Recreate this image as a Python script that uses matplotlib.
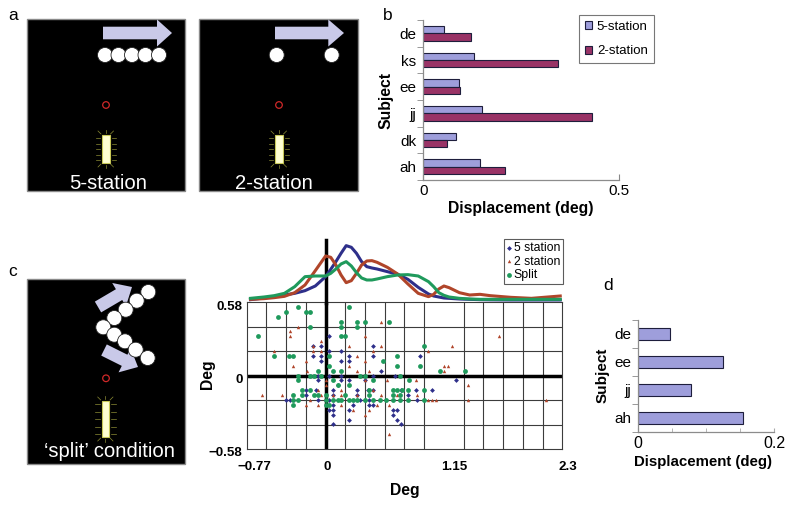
import matplotlib
matplotlib.use('Agg')
import matplotlib.pyplot as plt
from matplotlib.patches import Rectangle, Circle, Polygon, FancyArrow
import matplotlib.transforms as mtransforms
import numpy as np

plt.rcParams['font.family'] = ['Liberation Sans', 'DejaVu Sans']

# ---------------- data ----------------
subjects_b = ['de', 'ks', 'ee', 'jj', 'dk', 'ah']
five_station = [0.054, 0.131, 0.092, 0.149, 0.084, 0.145]
two_station = [0.121, 0.345, 0.094, 0.432, 0.061, 0.208]

subjects_d = ['de', 'ee', 'jj', 'ah']
split_disp = [0.046, 0.125, 0.078, 0.154]

# panel c scatter (deg)
split_x = [-0.269, 0.227, -0.389, -0.194, -0.155, -0.463, 0.152, 0.304, 0.379, 0.615,
           -0.155, 0.152, 0.304, -0.657, 0.152, 0.185, 0.952, -0.505, -0.353, -0.314,
           0.032, 0.690, 0.560, 0.032, 0.690, 0.913, -0.078, 0.074, 0.152, 1.107,
           1.350, -0.269, -0.155, -0.117, -0.042, 0.337, 0.379, 0.722, -0.269, 0.074,
           0.460, 0.809, 0.117, 0.227, -0.230, -0.149, 0.418, 0.651, 0.690, 0.742,
           0.800, 0.955, -0.314, -0.230, -0.117, -0.078, 0.0, 0.191, 0.418, 0.651,
           0.725, -0.314, -0.269, 0.0, 0.074, 0.117, 0.152, 0.227, 0.266, 0.304,
           0.379, 0.460, 0.531, 0.589, 0.651, 0.722, 0.800, 0.955, -0.314, 0.0, 0.032]
split_y = ([0.546] * 2 + [0.506] * 3 + [0.467] + [0.425] * 4 + [0.388] * 3 + [0.311] * 3
           + [0.235] + [0.158] * 5 + [0.119] + [0.076] * 3 + [0.037] * 5 + [0.0] * 7
           + [-0.034] * 4 + [-0.074] * 2 + [-0.113] * 8 + [-0.153] * 9 + [-0.193] * 17
           + [-0.232] * 3)

five_x = [0.032, -0.120, -0.042, 0.460, 0.032, 0.152, -0.120, -0.042, 0.227, 0.460,
          0.913, -0.042, 0.152, 0.227, 0.538, -0.078, 0.032, 0.152, 0.460, 0.677,
          -0.078, 0.152, 0.227, 0.379, 1.263, 0.117, -0.194, -0.094, 0.074, 0.304,
          0.408, 0.460, 0.729, 0.881, 1.033, -0.194, 0.074, 0.304, 0.797, -0.385,
          -0.346, -0.078, 0.036, 0.337, 0.418, 0.884, 0.074, 0.266, 0.418, 0.460,
          0.032, 0.074, 0.227, 0.651, 0.690, 0.074, 0.651, 0.227, 0.690, 0.074, 0.729]
five_y = ([0.311] + [0.235] * 3 + [0.198] * 2 + [0.158] * 5 + [0.119] * 3 + [0.037]
          + [0.0] * 5 + [-0.034] * 5 + [-0.074] + [-0.113] * 9 + [-0.153] * 4
          + [-0.193] * 7 + [-0.232] * 4 + [-0.272] * 5 + [-0.311] * 2 + [-0.351] * 2
          + [-0.385] * 2)

two_x = [0.538, -0.269, -0.346, -0.346, 0.379, 1.687, -0.042, -0.120, 0.227, 0.538,
         1.224, -0.499, -0.120, -0.042, 0.460, 0.991, 0.304, -0.194, 0.379, -0.314,
         0.227, 1.146, 1.185, -0.181, 0.304, 0.418, 1.146, -0.042, 0.0, 0.379,
         0.596, 0.877, 0.0, 1.379, -0.078, 0.152, 0.460, -0.615, -0.421, -0.314,
         -0.042, 0.0, 0.074, 0.152, 0.304, 0.538, 0.690, 0.884, -0.155, 0.994,
         1.033, 1.075, 1.379, 2.144, -0.194, -0.078, 0.152, 0.499, 0.615, 0.266,
         0.418, 0.379, 0.615]
two_y = ([0.425] + [0.388] + [0.351] + [0.311] * 3 + [0.274] + [0.235] * 4 + [0.198] * 5
         + [0.158] + [0.119] * 2 + [0.076] * 4 + [0.037] * 4 + [0.0] + [-0.034] * 4
         + [-0.074] * 2 + [-0.113] * 3 + [-0.153] * 11 + [-0.193] * 6 + [-0.232] * 5
         + [-0.272] * 2 + [-0.311] + [-0.464])

# panel c density curves (relative height)
kde_x = [-0.73, -0.6, -0.5, -0.4, -0.3, -0.2, -0.1, 0.0, 0.05, 0.1, 0.15, 0.2, 0.25,
         0.3, 0.35, 0.4, 0.45, 0.5, 0.6, 0.7, 0.8, 0.9, 1.0, 1.05, 1.1, 1.15, 1.2,
         1.3, 1.4, 1.5, 1.6, 1.8, 2.0, 2.28]
kde_five = [1, 6, 10, 15, 20, 28, 42, 70, 92, 115, 140, 163, 158, 140, 115, 100, 96,
            93, 85, 77, 62, 38, 18, 12, 9, 6, 5, 3, 2, 1, 0.5, 0, 0, 0]
kde_two = [2, 4, 7, 11, 22, 45, 88, 132, 128, 105, 75, 52, 58, 80, 105, 117, 118, 113,
           98, 78, 48, 20, 10, 17, 33, 42, 37, 22, 15, 17, 13, 8, 5, 12]
kde_split = [5, 9, 13, 20, 40, 70, 72, 72, 80, 93, 108, 115, 102, 82, 66, 60, 60, 63,
             70, 75, 76, 72, 55, 40, 22, 14, 9, 5, 3, 2, 2, 2, 2, 2]

# ---------------- style ----------------
C5 = '#9e9edb'
C2 = '#993366'
EC = '#1e1e3c'
BLUE = '#2e2f8a'
RED = '#b0452a'
GREEN = '#1f9a5c'
LAV = '#c9c9e8'

W, H = 795, 505
fig = plt.figure(figsize=(7.95, 5.05), dpi=100)


def fx(px):
    return px / W


def fy(py):
    return 1 - py / H


def rect(l, t, r, b):
    return [fx(l), fy(b), (r - l) / W, (b - t) / H]


# ---------------- schematic overlay ----------------
ov = fig.add_axes([0, 0, 1, 1])
ov.set_xlim(0, W)
ov.set_ylim(H, 0)
ov.axis('off')


def black_box(l, t, r, b):
    ov.add_patch(Rectangle((l, t), r - l, b - t, facecolor='black',
                           edgecolor='#8a8a8a', lw=1.0, zorder=1))


def ring(x, y):
    ov.add_patch(Circle((x, y), 3.3, facecolor='none', edgecolor='#d02828',
                        lw=0.9, zorder=3))


def glow_bar(x0, y0, w, h):
    gc = '#8c8c34'
    n = 5
    for i in range(n):
        yy = y0 + 3 + (h - 6) * i / (n - 1)
        ov.plot([x0 - 6.5, x0 - 2], [yy, yy], color=gc, lw=0.5, zorder=2)
        ov.plot([x0 + w + 2, x0 + w + 6.5], [yy, yy], color=gc, lw=0.5, zorder=2)
    for sx in (-1, 1):
        cx = x0 + w / 2 + sx * (w / 2 + 1)
        ov.plot([cx, cx + sx * 3], [y0 - 1, y0 - 4], color=gc, lw=0.5, zorder=2)
        ov.plot([cx, cx + sx * 3], [y0 + h + 1, y0 + h + 4], color=gc, lw=0.5, zorder=2)
    ov.plot([x0 + w / 2] * 2, [y0 - 2, y0 - 5], color=gc, lw=0.5, zorder=2)
    ov.plot([x0 + w / 2] * 2, [y0 + h + 2, y0 + h + 5], color=gc, lw=0.5, zorder=2)
    ov.add_patch(Rectangle((x0, y0), w, h, facecolor='#ffffd2', edgecolor='#c8c858',
                           lw=0.8, zorder=3))


def h_arrow(x0, x1, xt):
    ov.add_patch(Polygon([(x0, 26.7), (x1, 26.7), (x1, 19.5), (xt, 33), (x1, 46.5),
                          (x1, 39.3), (x0, 39.3)], closed=True, facecolor=LAV,
                         edgecolor='none', zorder=2))


def disc(x, y, r=7.5):
    ov.add_patch(Circle((x, y), r, facecolor='white', edgecolor='#222222',
                        lw=0.6, zorder=4))


# panel a, 5-station
black_box(27, 19, 185, 191)
h_arrow(103, 157, 172)
for cx in [105, 118.5, 132, 145.5, 159]:
    disc(cx, 55)
ring(106, 105)
glow_bar(102, 135, 7.5, 28)
ov.text(108, 189, '5-station', color='white', fontsize=14.6, ha='center',
        va='baseline', zorder=5)

# panel a, 2-station
black_box(199, 19, 358, 191)
h_arrow(275, 328.3, 344)
for cx in [276.7, 331.7]:
    disc(cx, 55)
ring(279, 105)
glow_bar(275, 135, 7.5, 28)
ov.text(274, 189, '2-station', color='white', fontsize=14.6, ha='center',
        va='baseline', zorder=5)

# panel c schematic
black_box(27, 279, 185, 464)
ov.add_patch(FancyArrow(98, 307, 34, -20, width=12.5, head_width=27, head_length=15,
                        length_includes_head=True, facecolor=LAV, edgecolor='none',
                        zorder=2))
ov.add_patch(FancyArrow(104, 350, 34, 17, width=12.5, head_width=27, head_length=15,
                        length_includes_head=True, facecolor=LAV, edgecolor='none',
                        zorder=2))
for (cx, cy) in [(148.3, 292), (136.7, 300.7), (125.7, 309.7), (114.3, 318),
                 (103.3, 327.3), (114.3, 334.7), (125, 341.3), (135.7, 349.7),
                 (147.7, 358)]:
    disc(cx, cy)
ring(106, 378.3)
glow_bar(101.7, 401, 7.3, 36)
ov.text(110, 457, '\u2018split\u2019 condition', color='white', fontsize=14.6,
        ha='center', va='baseline', zorder=5)

# panel letters
for (t, x, y) in [('a', 13, 15), ('b', 388, 15), ('c', 13, 272), ('d', 608, 286)]:
    fig.text(fx(x), fy(y), t, fontsize=12.5, ha='center', va='center')

# ---------------- panel b ----------------
axb = fig.add_axes(rect(423.3, 20, 618.7, 180), facecolor='none')
yb = np.arange(len(subjects_b))
axb.barh(yb - 0.137, five_station, height=0.274, color=C5, edgecolor=EC, lw=0.8,
         label='5-station')
axb.barh(yb + 0.137, two_station, height=0.274, color=C2, edgecolor=EC, lw=0.8,
         label='2-station')
axb.set_xlim(0, 0.5)
axb.set_ylim(len(subjects_b) - 0.5, -0.5)
axb.set_yticks(yb, subjects_b)
axb.set_yticks(np.arange(-0.5, len(subjects_b)), minor=True)
axb.tick_params(axis='y', which='major', length=0, pad=5, labelsize=11)
axb.tick_params(axis='y', which='minor', length=4.5, direction='out', color='#888888')
axb.set_xticks([0, 0.5], ['0', '0.5'])
axb.tick_params(axis='x', which='major', length=4, direction='in', color='#888888',
                labelsize=11, pad=3)
for s in ['top', 'right']:
    axb.spines[s].set_visible(False)
for s in ['left', 'bottom']:
    axb.spines[s].set_color('#8c8c8c')
    axb.spines[s].set_linewidth(0.9)
fig.text(fx(386), fy(100), 'Subject', rotation=90, fontsize=11.3, fontweight='bold',
         ha='center', va='center')
fig.text(fx(521), fy(209), 'Displacement (deg)', fontsize=11.3, fontweight='bold',
         ha='center', va='center')
hb, lb = axb.get_legend_handles_labels()
legb = fig.legend(hb, lb, loc='upper left', bbox_to_anchor=(fx(579), fy(15)),
                  frameon=True, fancybox=False, edgecolor='#555555', fontsize=9.5,
                  handlelength=0.55, handleheight=0.55, handletextpad=0.35,
                  borderpad=0.45, labelspacing=0.95, borderaxespad=0)
legb.get_frame().set_linewidth(0.8)

# ---------------- panel c ----------------
XMIN, XMAX = -2.3 / 3, 2.3
axc = fig.add_axes(rect(246.7, 302.3, 562.3, 449), facecolor='none')
axc.set_xlim(XMIN, XMAX)
axc.set_ylim(-0.58, 0.58)
axc.set_xticks(np.arange(-4, 13) * 2.3 / 12, minor=True)
axc.set_yticks(np.arange(-3, 4) * 0.58 / 3, minor=True)
axc.grid(which='minor', color='#3c3c3c', lw=0.8)
axc.set_axisbelow(True)
axc.set_xticks([XMIN, 0, 1.15, 2.3], ['\u22120.77', '0', '1.15', '2.3'])
axc.set_yticks([-0.58, 0, 0.58], ['\u22120.58', '0', '0.58'])
axc.tick_params(which='both', length=0)
axc.tick_params(axis='x', pad=9)
axc.tick_params(axis='y', pad=3)
for lab in axc.get_xticklabels() + axc.get_yticklabels():
    lab.set_fontweight('bold')
    lab.set_fontsize(9.6)
for lab, dx in zip(axc.get_xticklabels(), [7.3, 1.4, 10.6, 5.5]):
    lab.set_transform(lab.get_transform()
                      + mtransforms.ScaledTranslation(dx / 100, 0, fig.dpi_scale_trans))
off_y = mtransforms.ScaledTranslation(0, -3 / 100, fig.dpi_scale_trans)
for lab in axc.get_yticklabels():
    lab.set_transform(lab.get_transform() + off_y)
for s in axc.spines.values():
    s.set_color('#3c3c3c')
    s.set_linewidth(0.8)
axc.axhline(0, color='black', lw=2.5, zorder=2)
axc.axvline(0, color='black', lw=2.5, zorder=2)
axc.scatter(five_x, five_y, marker='D', s=6, color=BLUE, lw=0, zorder=3,
            label='5 station')
axc.scatter(two_x, two_y, marker='^', s=6, color=RED, lw=0, zorder=3,
            label='2 station')
axc.scatter(split_x, split_y, marker='o', s=12, color=GREEN, lw=0, zorder=3,
            label='Split')
fig.text(fx(207), fy(374), 'Deg', rotation=90, fontsize=11.3, fontweight='bold',
         ha='center', va='center')
fig.text(fx(405), fy(490), 'Deg', fontsize=11.3, fontweight='bold',
         ha='center', va='center')

axk = fig.add_axes(rect(246.7, 238.3, 562.3, 300), facecolor='none')
axk.set_xlim(XMIN, XMAX)
axk.set_ylim(0, 185)
axk.axis('off')
axk.plot([0, 0], [-8, 180], color='black', lw=2.5, clip_on=False, zorder=1)
axk.plot(kde_x, kde_five, color=BLUE, lw=2.2, clip_on=False, zorder=2)
axk.plot(kde_x, kde_two, color=RED, lw=2.2, clip_on=False, zorder=2)
axk.plot(kde_x, kde_split, color=GREEN, lw=2.2, clip_on=False, zorder=2)

hc, lc = axc.get_legend_handles_labels()
legc = fig.legend(hc, lc, loc='upper left', bbox_to_anchor=(fx(504), fy(239)),
                  frameon=True, fancybox=False, edgecolor='#333333', fontsize=8.8,
                  handlelength=0.3, handletextpad=0.25, borderpad=0.25,
                  labelspacing=0.12, borderaxespad=0, markerscale=1.0)
legc.get_frame().set_linewidth(0.8)
legc.set_zorder(10)

# ---------------- panel d ----------------
axd = fig.add_axes(rect(638.3, 320, 774, 431.5), facecolor='none')
yd = np.arange(len(subjects_d))
axd.barh(yd, split_disp, height=0.43, color=C5, edgecolor=EC, lw=0.8)
axd.set_xlim(0, 0.2)
axd.set_ylim(len(subjects_d) - 0.5, -0.5)
axd.set_yticks(yd, subjects_d)
axd.set_yticks(np.arange(-0.5, len(subjects_d)), minor=True)
axd.tick_params(axis='y', which='major', length=0, pad=5, labelsize=11)
axd.tick_params(axis='y', which='minor', length=4.5, direction='out', color='#888888')
axd.set_xticks([0, 0.2], ['0', '0.2'])
axd.set_xticks([0.05, 0.1, 0.15], minor=True)
axd.tick_params(axis='x', which='both', length=3, direction='in', color='#aaaaaa',
                labelsize=11.5, pad=3)
for s in ['top', 'right']:
    axd.spines[s].set_visible(False)
for s in ['left', 'bottom']:
    axd.spines[s].set_color('#8c8c8c')
    axd.spines[s].set_linewidth(0.9)
fig.text(fx(602.5), fy(375.5), 'Subject', rotation=90, fontsize=11, fontweight='bold',
         ha='center', va='center')
fig.text(fx(703), fy(461.7), 'Displacement (deg)', fontsize=10.8, fontweight='bold',
         ha='center', va='center')

fig.savefig('out.png', dpi=100)
